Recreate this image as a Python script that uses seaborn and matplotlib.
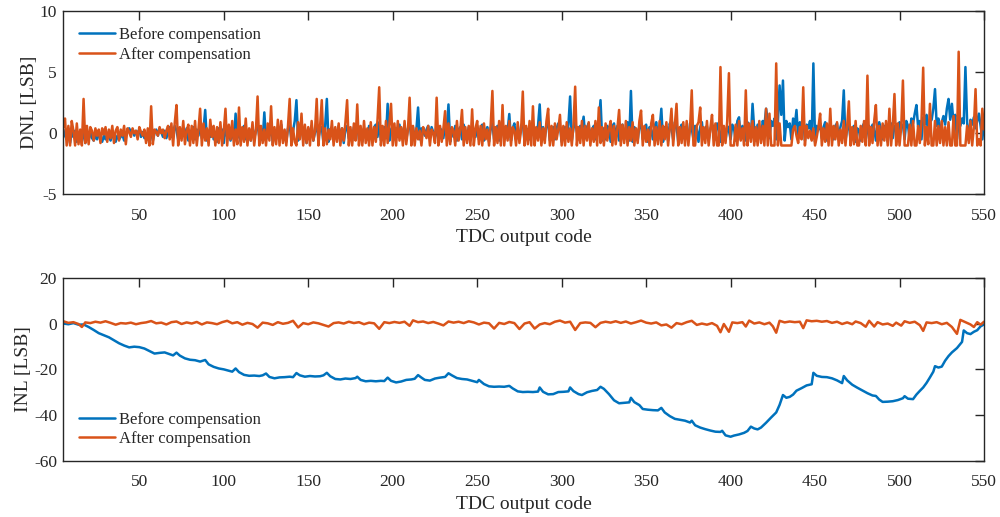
import numpy as np
import pandas as pd
import seaborn as sns
import matplotlib
matplotlib.use("Agg")
import matplotlib.pyplot as plt

# TDC output codes on the horizontal axis
code_first, code_last = 5, 550
codes = np.arange(code_first, code_last + 1)

# DNL [LSB] per output code, before calibration
dnl_before = [
    0.3, -0.2, -0.5, 0.4, -0.8, 0.1, -0.3, 0.2, -0.7, -0.4,
    0.0, -0.6, 0.3, -0.8, -0.3, -0.5, 0.1, -0.4, -0.6, -0.2,
    -0.5, -0.1, -0.4, -0.7, -0.2, -0.5, 0.0, -0.3, -0.6, -0.1,
    -0.4, -0.7, -0.2, -0.5, -0.3, -0.1, -0.6, -0.2, 0.3, 0.4,
    0.1, 0.3, -0.2, 0.2, 0.0, 0.3, -0.3, 0.1, -0.4, -0.2,
    -0.5, -0.3, 0.1, -0.6, 0.0, 0.3, -0.2, 0.4, 0.1, -0.3,
    0.2, -0.4, 0.0, 0.5, -0.3, 0.1, 0.6, 0.2, -0.5, 0.4,
    -0.4, 0.3, -0.2, 0.4, -0.6, 0.2, -0.3, 0.5, -0.5, 0.3,
    -0.2, 0.8, -0.4, 0.3, 1.9, -0.6, 0.2, -0.3, 0.5, -0.5,
    0.1, -0.7, 0.4, -0.2, 0.3, -0.8, 0.6, -0.3, 0.2, -0.6,
    0.4, -0.5, 1.6, -0.4, 0.3, -0.7, 0.2, 0.6, -0.5, -0.3,
    0.1, -0.6, 0.5, -0.4, 0.2, 0.7, -0.3, 0.4, -0.6, 1.7,
    -0.5, 0.3, -0.2, 0.6, -0.8, 0.2, -0.3, 0.5, -0.6, 0.7,
    -0.4, 0.1, -0.7, 0.4, 0.6, -0.5, 0.2, 1.0, 2.7, -0.6,
    0.3, 0.8, -0.5, 0.2, -0.8, 0.4, -0.3, 0.6, -0.6, 0.1,
    0.7, -0.4, 0.3, 0.5, -0.8, 0.6, 2.8, -0.7, 0.3, 0.5,
    -0.6, 0.2, -0.3, 0.6, -0.5, 0.4, -0.8, 0.3, 0.6, -0.4,
    0.2, -0.6, 0.5, 0.3, 0.8, -0.5, 0.2, -0.7, 0.4, 0.1,
    -0.5, 0.6, 0.2, -0.4, 0.5, 0.7, -0.3, 0.9, -0.6, 0.3,
    0.5, -0.4, 2.4, -0.6, 0.3, 0.6, -0.5, 0.4, -0.3, 0.7,
    -0.4, 0.2, 0.6, -0.6, 0.4, 0.8, -0.3, 0.5, -0.5, 0.3,
    2.1, -0.5, 0.4, 0.2, -0.2, 0.3, 0.6, -0.4, 0.5, 0.1,
    -0.3, 0.6, -0.6, 0.4, 0.2, -0.4, 0.8, 0.3, 2.35, -0.7,
    0.4, -0.3, 0.6, -0.6, 0.3, 0.5, -0.5, 0.7, 0.1, -0.4,
    0.5, -0.6, 0.4, 0.2, -0.3, 0.6, -0.5, 0.3, 0.7, -0.6,
    0.2, 0.5, -0.7, 0.4, 0.8, -0.5, 0.3, 0.6, -0.6, 0.4,
    0.7, -0.4, 0.5, 0.2, 1.57, -0.6, 0.4, 0.8, -0.5, 0.3,
    -0.4, 0.6, 0.9, -0.7, 0.4, 0.2, -0.5, 0.7, 0.5, -0.6,
    0.3, 0.6, 2.35, -0.6, 0.5, -0.4, 0.7, 0.9, -0.6, 0.3,
    0.5, -0.5, 0.4, 0.8, 0.6, -0.7, 0.3, 0.5, -0.4, 0.7,
    3.0, -0.6, 0.4, 0.9, 0.2, -0.5, 0.6, 0.5, 1.35, -0.4,
    0.5, 0.8, -0.6, 0.3, 0.6, -0.5, 0.7, 0.9, 2.7, -0.6,
    0.4, -0.5, 0.6, 0.3, -0.7, 0.5, 0.8, -0.4, 0.6, -0.6,
    0.3, 0.7, -0.5, 0.4, 0.9, -0.6, 3.45, -0.7, 0.5, 0.3,
    -0.6, 0.6, 0.8, -0.5, 0.4, 0.7, -0.7, 0.5, 0.3, -0.5,
    0.6, 0.9, -0.6, 0.4, 2.0, -0.7, 0.5, 0.3, -0.6, 0.8,
    0.4, -0.5, 0.9, 0.6, -0.7, 0.3, 0.7, -0.4, 0.5, 0.2,
    -0.6, 0.8, 0.4, -0.5, 0.6, 0.3, -0.7, 0.5, 0.9, -0.4,
    0.4, 0.6, -0.6, 0.3, 0.7, 0.5, -0.5, 0.8, 0.4, -0.7,
    0.5, 0.3, -0.6, 0.6, 0.2, -0.5, 0.7, 0.4, -0.6, 1.0,
    1.3, -0.5, 0.6, 0.4, -0.6, 0.9, 0.5, -0.4, 2.4, 0.3,
    -0.6, 0.7, 0.5, -0.5, 1.0, 0.6, 2.0, 1.1, -0.4, 1.0,
    0.6, 1.2, -0.5, 0.9, 3.9, 1.5, 4.3, -0.6, 1.0, 0.5,
    0.8, -0.5, 1.2, 0.6, 1.9, -0.4, 0.9, 0.5, 1.1, -0.6,
    0.7, 0.4, 1.0, -0.5, 5.7, -0.7, 0.6, 0.3, 0.8, -0.4,
    0.5, 0.9, -0.6, 0.4, 0.7, 0.2, -0.5, 0.6, 0.8, -0.4,
    0.5, 1.0, 3.5, -0.6, 0.4, 0.7, -0.5, 0.3, 0.6, -0.7,
    0.4, 0.2, -0.6, 0.5, 0.8, -0.5, 0.3, 0.6, -0.4, 0.7,
    0.4, -0.6, 0.5, 0.9, 0.3, -0.5, 0.6, 0.4, -0.7, 0.5,
    0.8, -0.4, 0.6, 0.3, -0.6, 0.9, 0.5, 0.7, -0.5, 1.0,
    0.6, -0.4, 1.2, 0.8, 1.6, 2.3, 0.5, 1.0, -0.5, 1.3,
    0.7, 1.5, -0.3, 0.9, 1.1, 2.0, 3.6, 0.6, 1.2, -0.4,
    0.9, 1.4, 0.7, 2.0, 2.8, 1.1, 2.4, 0.8, 1.5, -0.5,
    1.0, 0.6, 1.2, 0.8, 5.4, 0.9, -0.6, 1.1, 0.7, 1.3,
    0.4, 1.0, 1.6, 0.6, -0.5, 0.8,
]

# DNL [LSB] per output code, after calibration
dnl_after = [
    0.5, 1.2, -1.0, 0.6, -1.0, 1.0, 0.2, -1.0, 0.8, -0.9,
    0.3, -1.0, 2.8, -0.8, 0.6, -0.9, 0.5, 0.2, -0.6, 0.4,
    -0.2, 0.3, -0.8, 0.4, -0.1, 0.5, -0.7, 0.3, -0.4, 0.6,
    -0.8, 0.2, 0.5, -0.6, 0.3, -0.2, 0.6, -0.9, 0.4, 0.1,
    -0.3, 0.4, 0.0, 0.2, -0.5, 0.5, 0.1, -0.2, 0.3, -0.8,
    0.4, -1.0, 2.2, -0.9, 0.3, 0.1, -0.2, 0.5, 0.0, 0.3,
    -0.4, 0.2, 0.6, -0.5, 0.8, -1.0, 0.9, 2.3, -1.0, 0.5,
    -0.6, 1.0, -0.9, 0.2, 0.7, -1.0, 0.6, -0.8, 1.0, -1.0,
    0.3, 2.0, -1.0, 0.8, -0.6, 0.4, -1.0, 1.1, -0.3, 0.6,
    -1.0, 0.5, -0.8, 0.9, -1.0, 0.2, 2.0, -1.0, 0.7, -0.5,
    1.0, -1.0, 0.3, -0.9, 2.1, -1.0, 0.5, -0.7, 1.2, -1.0,
    0.4, -0.6, 0.9, -1.0, 0.2, 3.0, -1.0, 0.6, -0.8, 0.3,
    -1.0, 0.8, -0.6, 2.2, -1.0, 0.5, -0.9, 1.1, -1.0, 1.0,
    -0.8, 0.3, -1.0, 0.6, 2.8, -1.0, 0.4, -0.7, -1.0, 0.9,
    -0.5, 1.6, -1.0, 0.7, -0.8, 0.5, -1.0, 1.0, -0.6, 0.2,
    2.8, -1.0, 0.6, 2.7, -1.0, 0.4, -0.9, 0.3, -0.5, 1.0,
    -1.0, 0.5, -0.7, 0.8, -1.0, 0.4, -0.6, 0.9, 2.7, -1.0,
    0.5, -1.0, 0.8, -0.6, 2.35, -1.0, 0.6, -1.0, 1.0, -0.8,
    0.4, -1.0, 0.9, -1.0, 0.5, -0.7, 1.1, 3.75, -1.0, 0.6,
    -1.0, 1.0, -0.8, 0.7, 2.4, -1.0, 0.8, -1.0, 1.0, -0.6,
    0.5, -1.0, 1.0, -0.9, 0.3, 2.9, -1.0, 0.6, -1.0, 0.4,
    -0.5, 0.2, -1.0, 0.5, 0.1, -0.4, 0.6, -1.0, 0.3, 0.0,
    -0.8, 2.9, -1.0, 0.6, -0.7, 0.4, 1.8, -1.0, 0.8, -0.9,
    0.5, 0.2, -1.0, 1.0, -0.6, 0.3, 1.9, -1.0, 0.5, -0.8,
    0.6, -1.0, 1.95, -1.0, 0.4, 1.0, -0.9, 0.6, -1.0, 0.8,
    -0.5, 0.3, -1.0, 0.7, 3.45, -1.0, 0.5, -0.8, 1.0, -1.0,
    2.3, -1.0, 0.6, -0.6, 1.0, -1.0, 0.5, 0.2, -1.0, 0.9,
    -0.8, 0.3, 3.4, -1.0, 0.6, -0.9, 1.0, -1.0, 2.2, -1.0,
    0.5, -0.6, 0.9, -1.0, 0.4, -0.8, 1.0, 2.0, -1.0, 0.6,
    -1.0, 0.8, -0.5, 0.3, 1.5, -1.0, 0.6, -1.0, 0.9, -0.7,
    0.4, -1.0, 0.7, 3.8, -1.0, 0.5, -0.8, 1.0, -1.0, 0.6,
    -0.6, 0.9, -1.0, 0.4, -0.7, 1.0, -1.0, 2.1, -0.8, 0.5,
    -1.0, 0.8, -0.6, 0.3, 1.0, -1.0, 0.6, -0.9, 0.4, 1.9,
    -1.0, 0.7, -0.8, 1.0, -1.0, 0.5, -0.6, 0.9, -1.0, 0.4,
    -0.8, 1.0, 1.85, -1.0, 0.6, -0.7, 0.3, -1.0, 0.8, 1.5,
    -1.0, 0.5, -0.9, 1.0, -1.0, 0.6, -0.5, 0.9, -1.0, 0.4,
    2.0, -1.0, 0.7, 2.4, -1.0, 0.5, -0.8, 0.9, -1.0, 1.0,
    -1.0, 0.4, 3.5, -1.0, -1.0, 0.6, 0.9, 2.1, -1.0, 0.5,
    -0.8, 1.0, -1.0, 0.4, 1.5, -1.0, 0.8, -1.0, -1.0, 5.4,
    -1.0, 0.6, -0.8, 1.0, 4.9, -1.0, -1.0, -1.0, 0.7, -1.0,
    1.0, -0.6, 0.4, -1.0, 3.5, -1.0, 0.8, -0.7, 1.0, -1.0,
    0.5, -1.0, 1.0, -0.8, 0.6, -1.0, 2.0, -1.0, 1.6, -1.0,
    -1.0, -1.0, 5.7, -1.0, 0.8, -1.0, -1.0, -1.0, -1.0, -1.0,
    -1.0, -1.0, 0.3, 0.6, -0.2, -0.8, 0.5, -0.5, 3.75, -1.0,
    0.6, -0.4, 0.2, -0.6, 0.4, -1.0, -0.3, 0.5, 1.6, -1.0,
    0.4, -0.7, 0.8, -1.0, 2.0, -1.0, 0.6, -0.5, 0.9, -1.0,
    0.3, -0.8, 1.0, -1.0, 0.6, 2.6, -1.0, 0.5, -0.9, 1.0,
    -1.0, -1.0, 0.6, -0.7, 1.0, -1.0, 4.7, -1.0, 0.5, -0.8,
    1.0, 2.3, -1.0, 0.6, -1.0, 0.8, -0.6, 1.0, -1.0, 2.0,
    -1.0, 0.6, 3.2, -1.0, 0.8, -1.0, 0.5, 4.3, -1.0, -1.0,
    -1.0, 0.7, -1.0, 1.0, -1.0, -1.0, 0.6, -0.8, 1.0, 5.35,
    -1.0, 0.5, -0.9, 2.4, -1.0, -1.0, 1.0, -1.0, 0.6, -0.8,
    1.0, -1.0, 0.5, -1.0, 0.9, -1.0, -1.0, 1.4, -1.0, -1.0,
    6.65, -1.0, -1.0, -1.0, -1.0, 0.6, -0.8, 1.0, -1.0, 0.5,
    3.6, -1.0, -0.5, -1.0, 2.0, 0.3,
]

# INL [LSB] before calibration, sampled at the listed codes
inl_before_codes = [
    5, 8, 11, 14, 17, 20, 23, 26, 29, 32, 35, 38, 41, 44, 47, 50, 53, 56, 59, 62,
    65, 68, 70, 72, 74, 77, 80, 83, 86, 89, 91, 94, 97, 100, 103, 105, 107, 109, 112, 115,
    118, 121, 123, 125, 127, 130, 133, 136, 139, 141, 143, 145, 148, 151, 154, 157, 159, 161, 163, 166,
    169, 172, 175, 178, 179, 181, 184, 187, 190, 193, 195, 197, 199, 202, 205, 208, 211, 213, 215, 217,
    219, 222, 225, 228, 231, 233, 235, 238, 241, 244, 247, 250, 251, 254, 257, 260, 263, 266, 269, 271,
    274, 277, 280, 283, 286, 287, 289, 292, 295, 298, 301, 304, 305, 307, 310, 312, 315, 318, 321, 323,
    325, 328, 331, 334, 337, 340, 341, 343, 346, 348, 351, 354, 357, 359, 361, 364, 367, 370, 373, 376,
    377, 379, 382, 385, 388, 391, 394, 395, 397, 400, 402, 405, 408, 410, 412, 414, 416, 418, 421, 424,
    427, 429, 431, 433, 435, 437, 439, 442, 445, 448, 449, 451, 454, 457, 460, 463, 466, 467, 469, 472,
    475, 478, 481, 484, 486, 488, 490, 493, 496, 499, 502, 503, 505, 508, 510, 512, 514, 516, 518, 520,
    521, 523, 525, 527, 529, 531, 534, 537, 538, 540, 542, 544, 546, 548, 550,
]
inl_before_vals = [
    0.0, -0.3, 0.2, -0.5, -0.4, -1.5, -2.8, -4.2, -5.1, -6.0, -7.3, -8.6, -9.6, -10.4, -10.1, -10.3, -10.9, -12.0, -13.1, -12.8,
    -12.6, -13.4, -13.9, -12.7, -14.0, -15.2, -15.8, -16.0, -16.6, -15.9, -17.8, -18.9, -19.6, -20.0, -20.6, -21.0, -19.6, -21.2, -22.4, -22.8,
    -22.7, -22.9, -22.6, -21.8, -23.3, -23.9, -23.5, -23.4, -23.2, -23.4, -21.6, -22.6, -23.2, -22.9, -23.1, -23.0, -22.6, -21.5, -23.0, -24.2,
    -24.4, -24.0, -24.2, -23.8, -23.2, -24.6, -25.2, -25.0, -25.2, -25.0, -25.1, -23.6, -25.0, -25.7, -25.3, -24.6, -24.4, -24.1, -22.5, -23.6,
    -24.6, -24.9, -24.0, -23.6, -23.3, -21.7, -22.6, -23.8, -24.2, -24.4, -25.0, -25.6, -24.6, -26.4, -27.4, -27.6, -27.5, -27.6, -27.2, -28.3,
    -29.6, -29.9, -29.8, -29.9, -29.7, -27.9, -29.8, -30.9, -30.8, -29.9, -29.8, -29.6, -27.9, -29.5, -30.8, -31.2, -30.0, -29.4, -29.0, -27.6,
    -28.5, -30.8, -33.5, -34.8, -34.6, -34.4, -32.4, -34.3, -35.6, -37.3, -37.6, -37.8, -37.9, -36.8, -38.8, -40.4, -41.6, -42.0, -42.4, -43.2,
    -42.4, -44.4, -45.4, -46.1, -46.7, -47.2, -47.3, -46.8, -48.8, -49.4, -48.9, -48.4, -47.7, -46.9, -45.0, -45.8, -46.2, -45.4, -43.3, -41.0,
    -38.8, -35.5, -31.2, -32.4, -32.0, -31.0, -29.3, -28.2, -27.0, -26.5, -21.5, -22.8, -23.3, -23.4, -23.9, -24.8, -26.0, -22.9, -24.8, -26.7,
    -28.0, -29.2, -30.4, -31.4, -31.6, -33.2, -34.2, -34.1, -33.9, -33.4, -32.6, -31.7, -32.8, -33.0, -31.0, -29.4, -27.9, -25.9, -23.5, -21.0,
    -18.6, -19.2, -18.8, -16.2, -14.2, -12.6, -10.7, -8.0, -3.0, -4.2, -4.6, -3.6, -2.9, -1.2, -0.4,
]

# INL [LSB] after calibration, sampled at the listed codes
inl_after_codes = [
    5, 8, 11, 14, 16, 18, 21, 24, 27, 30, 33, 36, 39, 42, 45, 48, 51, 54, 57, 60,
    63, 66, 69, 72, 75, 78, 81, 84, 87, 90, 93, 96, 99, 102, 105, 108, 111, 114, 117, 120,
    123, 126, 129, 132, 135, 138, 141, 144, 147, 150, 153, 156, 159, 162, 165, 168, 171, 174, 177, 180,
    183, 186, 189, 192, 195, 198, 201, 204, 207, 210, 212, 215, 218, 221, 224, 227, 230, 233, 236, 239,
    242, 245, 248, 251, 254, 257, 260, 263, 266, 269, 272, 275, 278, 281, 284, 287, 290, 293, 296, 299,
    302, 305, 308, 311, 314, 317, 320, 323, 326, 329, 332, 335, 338, 341, 344, 347, 350, 353, 356, 359,
    362, 365, 368, 371, 374, 377, 380, 383, 386, 389, 392, 394, 396, 399, 401, 404, 407, 409, 411, 414,
    417, 420, 423, 425, 427, 429, 432, 435, 438, 441, 443, 445, 448, 451, 454, 457, 460, 463, 466, 469,
    472, 474, 477, 480, 482, 485, 487, 490, 493, 496, 498, 501, 503, 506, 509, 512, 514, 516, 519, 522,
    525, 528, 531, 534, 536, 539, 542, 544, 546, 548, 550,
]
inl_after_vals = [
    1.0, 0.3, 0.6, -0.2, -1.5, 0.5, 0.2, 0.8, 0.4, 1.0, 0.3, -0.5, 0.2, 0.0, 0.4, -0.3, 0.2, 0.5, 1.1, 0.1,
    0.4, -0.4, 0.6, 0.9, -0.2, 0.5, 0.0, 0.7, -0.4, 0.5, 0.2, -0.3, 0.6, 1.2, 0.1, 0.6, -0.5, 0.3, -0.2, -1.8,
    0.4, 0.1, -0.6, 0.6, -0.1, 0.3, 1.2, -1.7, 0.2, -0.3, 0.5, 0.1, -0.6, -1.3, 0.2, 0.5, 0.0, 0.8, 0.2, 0.6,
    -0.3, 0.4, 0.1, -2.3, 0.6, 0.2, 0.7, 0.3, 0.8, -1.0, 1.4, 0.6, 0.9, 0.2, 0.7, 0.0, -0.8, 0.9, 0.4, 0.8,
    0.2, 1.0, 0.5, -0.4, 0.4, 0.1, -2.2, 0.3, -0.2, 0.7, 0.2, -2.4, 0.0, 0.6, -2.2, -0.4, 0.2, -0.3, 0.8, 1.3,
    0.4, 0.8, -2.8, 0.2, 0.5, 0.3, -1.6, 0.3, 0.8, 0.4, 1.0, 0.3, 0.9, 0.0, 0.6, 1.3, 0.4, 0.0, 0.5, -0.8,
    -0.4, -1.8, 0.2, -0.3, 0.6, 1.2, -0.6, 0.0, -0.5, 0.2, -1.0, -3.8, -0.2, -3.6, 0.5, 0.2, 0.6, -1.3, 1.3, 0.0,
    0.5, -0.3, 0.4, -1.2, -4.0, 1.2, 0.5, 0.9, 0.6, 0.8, -2.0, 1.4, 1.0, 1.2, 0.8, 1.1, 0.3, 0.8, -0.2, 0.5,
    -0.3, 0.9, 0.2, -1.4, 1.2, -1.3, 0.6, -0.4, 0.0, -1.0, 0.4, -0.9, 1.0, 0.3, 0.8, -0.7, -3.2, 0.5, 0.2, 0.6,
    -0.3, 0.3, -1.5, -4.5, 1.6, 0.6, -0.4, -1.5, 0.6, -0.5, 0.8,
]

series_labels = ["Before compensation", "After compensation"]
colors = ["#0072BD", "#D95319"]
ink = "#262626"

sns.set_theme(style="white")
plt.rcParams["font.family"] = ["Liberation Serif", "DejaVu Serif"]
plt.rcParams["axes.unicode_minus"] = False
plt.rcParams["axes.edgecolor"] = ink
plt.rcParams["axes.linewidth"] = 1.0

fig = plt.figure(figsize=(10, 5.17), dpi=100)
ax_dnl = fig.add_axes([0.0633, 0.6238, 0.9207, 0.3555])
ax_inl = fig.add_axes([0.0633, 0.1083, 0.9207, 0.3545])

lw = 1.8
dnl_df = pd.DataFrame({"code": codes, "before": dnl_before, "after": dnl_after})
sns.lineplot(data=dnl_df, x="code", y="before", ax=ax_dnl, color=colors[0],
             linewidth=lw, label=series_labels[0])
sns.lineplot(data=dnl_df, x="code", y="after", ax=ax_dnl, color=colors[1],
             linewidth=lw, label=series_labels[1])

sns.lineplot(x=inl_before_codes, y=inl_before_vals, ax=ax_inl, color=colors[0],
             linewidth=lw, label=series_labels[0])
sns.lineplot(x=inl_after_codes, y=inl_after_vals, ax=ax_inl, color=colors[1],
             linewidth=lw, label=series_labels[1])

tick_fs = 12.5
for ax in (ax_dnl, ax_inl):
    ax.set_xlim(code_first, code_last)
    ax.set_xticks(np.arange(50, 551, 50))
    ax.set_xlabel("TDC output code", fontsize=14, labelpad=4, color=ink)
    ax.tick_params(direction="in", length=6.5, width=1.0, top=True, right=True,
                   labelsize=tick_fs, colors=ink)
    ax.tick_params(axis="x", pad=9.5)
    ax.tick_params(axis="y", pad=4.5)
    for s in ax.spines.values():
        s.set_visible(True)
        s.set_color(ink)

ax_dnl.set_ylim(-5, 10)
ax_dnl.set_yticks([-5, 0, 5, 10])
ax_dnl.set_ylabel("DNL [LSB]", fontsize=14, labelpad=1.5, color=ink)

ax_inl.set_ylim(-60, 20)
ax_inl.set_yticks([-60, -40, -20, 0, 20])
ax_inl.set_ylabel("INL [LSB]", fontsize=14, labelpad=1.5, color=ink)

leg_kw = dict(frameon=False, fontsize=12, handlelength=2.15, handletextpad=0.25,
              labelspacing=0.2, borderaxespad=0.0, borderpad=0.0, loc="upper left")
ax_dnl.legend(bbox_to_anchor=(0.017, 0.91), **leg_kw)
ax_inl.legend(bbox_to_anchor=(0.017, 0.268), **leg_kw)

fig.savefig("out.png", dpi=100)
